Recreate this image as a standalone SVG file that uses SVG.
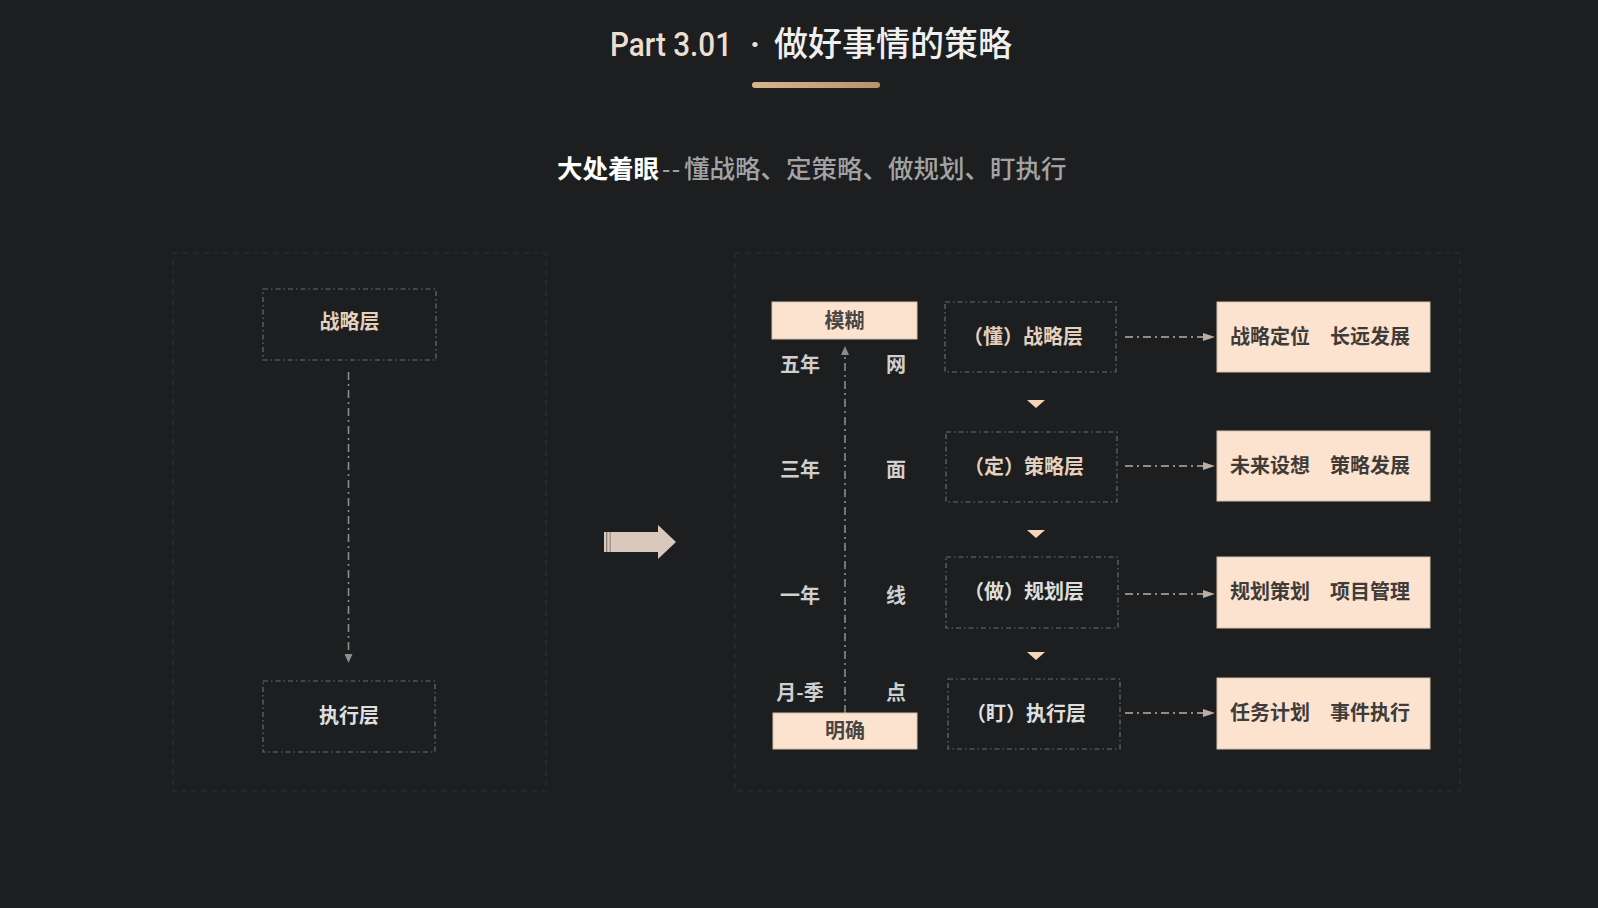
<svg xmlns="http://www.w3.org/2000/svg" width="1598" height="908" viewBox="0 0 1598 908">
<defs>
<style>
.cjk{font-family:"Noto Sans CJK SC","Noto Sans",sans-serif;}
.lbl{font-family:"Noto Sans CJK SC",sans-serif;font-size:20px;font-weight:700;text-anchor:middle;}
.panel{fill:none;stroke:#2c2f31;stroke-width:1.2;stroke-dasharray:6 4;}
.dbox{fill:#1c1e20;stroke:#6c6c6c;stroke-width:1.2;stroke-dasharray:5 3 1.5 3;}
.pbox{fill:#fbe3d0;stroke:#d8bfa9;stroke-width:1;}
.dark{fill:#3e3b38;}
.side{fill:#cfcfcf;}
.beige{fill:#e5d0bb;}
.grey{fill:#dedede;}
.conn{fill:none;stroke-width:1.6;stroke-dasharray:8 4 2 4;}
</style>
<linearGradient id="gold" x1="0" y1="0" x2="1" y2="0">
<stop offset="0" stop-color="#d9b48c"/>
<stop offset="1" stop-color="#b8926e"/>
</linearGradient>
<marker id="ahH" viewBox="0 0 12 8" refX="0" refY="4" markerWidth="12" markerHeight="8" orient="auto" markerUnits="userSpaceOnUse">
<path d="M0,0 L12,4 L0,8 Z" fill="#bcaea3"/>
</marker>
<marker id="ahV" viewBox="0 0 9 8" refX="0" refY="4" markerWidth="9" markerHeight="8" orient="auto" markerUnits="userSpaceOnUse">
<path d="M0,0 L9,4 L0,8 Z" fill="#8c8c8c"/>
</marker>
</defs>
<rect x="0" y="0" width="1598" height="908" fill="#1c1e20"/>

<g id="title">
<text x="610" y="56" font-family="Roboto,'Noto Sans',sans-serif" font-size="33" font-weight="500" fill="#ecdfd0" textLength="122" lengthAdjust="spacingAndGlyphs">Part 3.01</text>
<text x="755" y="56" font-family="Roboto,'Noto Sans',sans-serif" font-size="33" font-weight="700" fill="#ecdfd0" text-anchor="middle">·</text>
<text x="774" y="56" class="cjk" font-size="34" font-weight="500" fill="#f0f0f0">做好事情的策略</text>
<rect x="752" y="82" width="128" height="6" rx="3" fill="url(#gold)"/>
</g>

<g id="subtitle">
<text y="178" class="cjk" font-size="25.5"><tspan x="557" font-weight="700" fill="#ffffff">大处着眼</tspan><tspan x="662" font-family="'Liberation Sans',sans-serif" font-size="25" letter-spacing="1.5" fill="#9d9d9d">--</tspan><tspan x="684" font-weight="500" fill="#a3a3a3">懂战略、定策略、做规划、盯执行</tspan></text>
</g>

<g id="panels">
<rect class="panel" x="173" y="253" width="373" height="538"/>
<rect class="panel" x="735" y="253" width="725" height="538"/>
</g>

<g id="connectors">
<path class="conn" d="M348.5,372 V654" stroke="#8c8c8c" stroke-width="1.4" marker-end="url(#ahV)"/>
<path class="conn" d="M845,713 V355" stroke="#8c8c8c" stroke-width="1.4" marker-end="url(#ahV)"/>
<path class="conn" d="M1125,337 H1203" stroke="#bcaea3" marker-end="url(#ahH)"/>
<path class="conn" d="M1125,466 H1203" stroke="#bcaea3" marker-end="url(#ahH)"/>
<path class="conn" d="M1125,594 H1203" stroke="#bcaea3" marker-end="url(#ahH)"/>
<path class="conn" d="M1125,713 H1203" stroke="#bcaea3" marker-end="url(#ahH)"/>
<path d="M1027,400 H1045 L1036,408 Z" fill="#f7d4b6"/>
<path d="M1027,530 H1045 L1036,538 Z" fill="#f7d4b6"/>
<path d="M1027,652 H1045 L1036,660 Z" fill="#f7d4b6"/>
<g id="bigarrow">
<polygon points="604,532 658,532 658,525 676,542 658,559 658,552 604,552" fill="#d9c8bc"/>
<rect x="606" y="532" width="1.3" height="20" fill="#8a7f78"/>
<rect x="609.5" y="532" width="1.3" height="20" fill="#9a8f88"/>
</g>
</g>

<g id="node-zhanlue-left">
<rect class="dbox" x="263" y="289" width="173" height="71"/>
<text class="lbl beige" x="349.5" y="329">战略层</text>
</g>
<g id="node-zhixing-left">
<rect class="dbox" x="263" y="681" width="172" height="71"/>
<text class="lbl grey" x="349" y="723">执行层</text>
</g>

<g id="node-mohu">
<rect class="pbox" x="772" y="302" width="145" height="37"/>
<text class="lbl dark" x="844.5" y="328" style="fill:#4a4643">模糊</text>
</g>
<g id="node-mingque">
<rect class="pbox" x="773" y="713" width="144" height="36"/>
<text class="lbl dark" x="845" y="738" style="fill:#4a4643">明确</text>
</g>

<g id="side-labels">
<text class="lbl side" x="800" y="372">五年</text>
<text class="lbl side" x="896" y="372">网</text>
<text class="lbl side" x="800" y="477">三年</text>
<text class="lbl side" x="896" y="477">面</text>
<text class="lbl side" x="800" y="603">一年</text>
<text class="lbl side" x="896" y="603">线</text>
<text class="lbl side" x="800" y="700">月-季</text>
<text class="lbl side" x="896" y="700">点</text>
</g>

<g id="node-dong">
<rect class="dbox" x="945" y="302" width="171" height="70"/>
<text class="lbl beige" x="1023" y="344">（懂）战略层</text>
</g>
<g id="node-ding">
<rect class="dbox" x="946" y="432" width="171" height="70"/>
<text class="lbl beige" x="1024" y="474">（定）策略层</text>
</g>
<g id="node-zuo">
<rect class="dbox" x="946" y="557" width="172" height="71"/>
<text class="lbl grey" x="1024" y="599">（做）规划层</text>
</g>
<g id="node-ding2">
<rect class="dbox" x="948" y="679" width="172" height="70"/>
<text class="lbl grey" x="1026" y="721">（盯）执行层</text>
</g>

<g id="node-r1">
<rect class="pbox" x="1217" y="302" width="213" height="70"/>
<text class="lbl dark" x="1320" y="344">战略定位　长远发展</text>
</g>
<g id="node-r2">
<rect class="pbox" x="1217" y="431" width="213" height="70"/>
<text class="lbl dark" x="1320" y="473">未来设想　策略发展</text>
</g>
<g id="node-r3">
<rect class="pbox" x="1217" y="557" width="213" height="71"/>
<text class="lbl dark" x="1320" y="599">规划策划　项目管理</text>
</g>
<g id="node-r4">
<rect class="pbox" x="1217" y="678" width="213" height="71"/>
<text class="lbl dark" x="1320" y="720">任务计划　事件执行</text>
</g>
</svg>
